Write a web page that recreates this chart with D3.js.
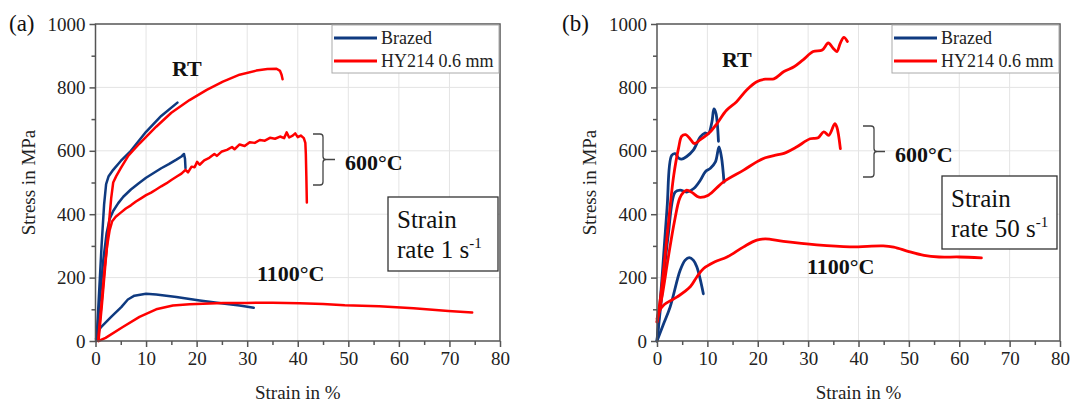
<!DOCTYPE html>
<html><head><meta charset="utf-8">
<script src="https://cdn.jsdelivr.net/npm/d3@7"></script>
<style>
html,body{margin:0;padding:0;background:#fff;}
svg{display:block;font-family:"Liberation Serif","Times New Roman",serif;}
</style></head>
<body><svg id="c" width="1070" height="403"></svg>
<script>
// ---------- data ----------
const xTicks = [0,10,20,30,40,50,60,70,80];
const yTicks = [0,200,400,600,800,1000];
const seriesNames = ["Brazed","HY214 0.6 mm"];

// panel (a): strain rate 1 s^-1  [strain %, stress MPa]
const aBrazedRT = [[0.2,0],[0.7,150],[1.2,300],[1.7,430],[2.1,495],[2.6,520],[3.5,540],[5,568],[7,600],[10,660],[13,710],[16.2,752]];
const aBrazed600 = [[0.2,0],[0.8,120],[1.5,250],[2.2,340],[2.8,385],[3.5,410],[4.5,435],[5.5,455],[7,478],[8.5,497],[10,515],[11.5,530],[13,545],[14.5,558],[16,572],[17,582],[17.5,590],[17.7,575],[17.8,545]];
const aBrazed1100 = [[0.1,7],[0.5,30],[1.1,44],[3.1,76],[5.1,107],[6.4,131],[7.7,143],[10,149],[12,147],[16,139],[20.6,128],[25.2,118],[28.5,112],[31.3,105]];
const aHyRT = [[0.6,0],[1.3,120],[2,250],[2.6,360],[3.1,450],[3.5,500],[4.1,520],[5,545],[6.5,585],[8.7,623],[12,676],[15,720],[18.6,760],[22,792],[25.2,818],[28.5,840],[31.8,853],[34,858],[35.8,859],[36.5,852],[36.8,840],[37,826]];
const aHy600 = [[0.5,0],[1.2,120],[1.8,230],[2.3,300],[2.8,350],[3.3,378],[4,392],[5,405],[6,418],[7,428],[8,440],[9,450],[10,460],[11,468],[12,478],[13,488],[14,497],[15,508],[16,518],[17,528],[17.8,540],[18.3,532],[19,550],[19.6,548],[20.1,565],[20.6,556],[21.5,570],[22.5,578],[23.5,590],[24,584],[25,598],[26,603],[27,612],[27.5,605],[28.5,620],[29.5,615],[30.5,627],[31.5,625],[32.5,634],[33.5,632],[34.5,641],[35.5,638],[36.5,645],[37.3,640],[37.8,658],[38.3,642],[39,648],[39.5,655],[40,643],[40.6,648],[41.2,640],[41.5,625],[41.6,590],[41.7,520],[41.8,437]];
const aHy1100 = [[0.6,0],[2,10],[5.4,44],[8.7,76],[12,100],[15.3,112],[18.6,116],[25.2,120],[29.8,120],[35,121],[40.4,119],[45,117],[49.3,113],[56.1,110],[62.9,103],[69.8,95],[74.5,90]];

// panel (b): strain rate 50 s^-1
const bBrazedRT = [[0,0],[1,200],[2,420],[2.9,585],[3.6,591],[4.3,577],[4.9,574],[5.9,582],[7.2,602],[8.6,644],[9.5,656],[10.2,654],[10.9,691],[11.3,732],[11.7,718],[12.2,630]];
const bBrazed600 = [[0,0],[1,150],[2.2,330],[3.6,470],[4.6,476],[5.9,470],[7.3,481],[8.6,507],[9.6,534],[10.6,545],[11.6,565],[12.3,612],[12.8,580],[13.3,501]];
const bBrazed1100 = [[0,0],[1.2,50],[2.6,107],[4.6,223],[5.6,255],[6.4,263],[7.2,255],[7.9,234],[9.2,149]];
const bHyRT = [[0,60],[0.8,150],[2,330],[3.3,520],[4.3,610],[4.9,646],[5.7,651],[6.7,635],[7.4,623],[8.6,635],[10.7,662],[11.9,686],[13.8,728],[15.8,755],[17.8,792],[19.8,818],[21.5,826],[23.2,827],[25.2,850],[27.2,865],[29,887],[31,913],[32.8,918],[34,940],[35,923],[35.7,913],[36.4,940],[37.1,958],[37.8,945]];
const bHy600 = [[0,60],[1,140],[2.2,260],[3.5,380],[4.5,450],[5.3,470],[5.9,476],[7,468],[8,456],[8.6,453],[10.2,460],[13.2,502],[17.2,539],[19.8,565],[21.5,578],[23.8,587],[25.2,592],[27.7,612],[30.4,638],[32,641],[33.1,660],[34.1,649],[35.3,686],[35.7,675],[36.4,607]];
const bHy1100 = [[0,70],[0.5,95],[1.3,113],[4,139],[6.6,171],[7.9,202],[9.2,228],[11.5,250],[13.9,265],[17.2,297],[19.8,318],[21.5,322],[25.1,314],[31.7,303],[38.3,297],[44.9,300],[47,296],[50,282],[53,270],[56,265],[60,265],[64.4,262]];

// ---------- drawing ----------
const BLUE = "#0f3a80", RED = "#ff0000";
const svg = d3.select("#c");

function panel(cfg){
  const g = svg.append("g");
  const x = d3.scaleLinear().domain([0,80]).range([cfg.left, cfg.right]);
  const y = d3.scaleLinear().domain([0,1000]).range([cfg.bottom, cfg.top]);

  // grid
  g.append("g").selectAll("line").data(xTicks.slice(1,-1)).join("line")
    .attr("x1",d=>x(d)).attr("x2",d=>x(d)).attr("y1",cfg.top).attr("y2",cfg.bottom)
    .attr("stroke","#e4e4e4").attr("stroke-width",1);
  g.append("g").selectAll("line").data(yTicks.slice(1,-1)).join("line")
    .attr("y1",d=>y(d)).attr("y2",d=>y(d)).attr("x1",cfg.left).attr("x2",cfg.right)
    .attr("stroke","#e4e4e4").attr("stroke-width",1);

  // curves
  const line = d3.line().x(d=>x(d[0])).y(d=>y(d[1])).curve(cfg.curve);
  cfg.series.forEach(s=>{
    g.append("path").datum(s.data).attr("d",line).attr("fill","none")
      .attr("stroke",s.color).attr("stroke-width",cfg.lw).attr("stroke-linejoin","round").attr("stroke-linecap","round");
  });

  // frame
  g.append("rect").attr("x",cfg.left).attr("y",cfg.top).attr("width",cfg.right-cfg.left).attr("height",cfg.bottom-cfg.top)
    .attr("fill","none").attr("stroke","#555").attr("stroke-width",1.5);

  // axes
  const xAxis = d3.axisBottom(x).tickValues(xTicks).tickSize(6).tickPadding(5).tickFormat(d3.format("d"));
  const gx = g.append("g").attr("transform",`translate(0,${cfg.bottom})`).call(xAxis);
  const xMinor = d3.axisBottom(x).tickValues(xTicks.slice(0,-1).map(d=>d+5)).tickSize(4).tickFormat("");
  const gxm = g.append("g").attr("transform",`translate(0,${cfg.bottom})`).call(xMinor);
  const yAxis = d3.axisLeft(y).tickValues(yTicks).tickSize(6).tickPadding(4).tickFormat(d3.format("d"));
  const gy = g.append("g").attr("transform",`translate(${cfg.left},0)`).call(yAxis);
  const yMinor = d3.axisLeft(y).tickValues(yTicks.slice(0,-1).map(d=>d+100)).tickSize(4).tickFormat("");
  const gym = g.append("g").attr("transform",`translate(${cfg.left},0)`).call(yMinor);
  [gx,gxm,gy,gym].forEach(a=>{
    a.attr("font-family",null).attr("font-size",null);
    a.select(".domain").remove();
    a.selectAll(".tick line").attr("stroke","#555").attr("stroke-width",1.5);
    a.selectAll("text").attr("font-size",19).attr("fill","#222");
  });

  // axis titles
  g.append("text").attr("x",(cfg.left+cfg.right)/2).attr("y",399).attr("text-anchor","middle")
    .attr("font-size",19).attr("fill","#222").text("Strain in %");
  g.append("text").attr("transform",`translate(${cfg.left-61},${(cfg.top+cfg.bottom)/2}) rotate(-90)`)
    .attr("text-anchor","middle").attr("font-size",19).attr("fill","#222").text("Stress in MPa");

  // panel label
  g.append("text").attr("x",cfg.labelX).attr("y",31).attr("font-size",23).attr("fill","#111").text(cfg.label);

  // legend
  const lg = g.append("g");
  lg.append("rect").attr("x",cfg.legX).attr("y",cfg.top+1).attr("width",cfg.right-cfg.legX-1).attr("height",48)
    .attr("fill","#fff").attr("stroke","#aaa").attr("stroke-width",1);
  seriesNames.forEach((n,i)=>{
    const yy = cfg.top + 14 + i*23;
    lg.append("line").attr("x1",cfg.legX+2).attr("x2",cfg.legX+45).attr("y1",yy).attr("y2",yy)
      .attr("stroke",i===0?BLUE:RED).attr("stroke-width",3);
    lg.append("text").attr("x",cfg.legX+49).attr("y",yy+6).attr("font-size",18).attr("fill","#222").text(n);
  });

  // annotations
  const bold = (t,cx,cy)=>g.append("text").attr("x",cx).attr("y",cy).attr("font-size",22).attr("font-weight","bold")
    .attr("fill","#111").text(t);
  bold("RT",cfg.rt[0],cfg.rt[1]);
  bold("600°C",cfg.c600[0],cfg.c600[1]);
  bold("1100°C",cfg.c1100[0],cfg.c1100[1]);

  // brace
  const b = cfg.brace; // [xLeft, yTop, yBottom, xSpine, xTip]
  const ym = (b[1]+b[2])/2;
  g.append("path").attr("d",
    `M${b[0]},${b[1]} L${b[3]-3},${b[1]} Q${b[3]},${b[1]} ${b[3]},${b[1]+3} L${b[3]},${ym-3} Q${b[3]},${ym} ${b[3]+3},${ym} L${b[4]},${ym} M${b[3]+3},${ym} Q${b[3]},${ym} ${b[3]},${ym+3} L${b[3]},${b[2]-3} Q${b[3]},${b[2]} ${b[3]-3},${b[2]} L${b[0]},${b[2]}`)
    .attr("fill","none").attr("stroke","#444").attr("stroke-width",1.3);

  // strain rate box
  const sb = cfg.box; // [x,y,w,h]
  g.append("rect").attr("x",sb[0]).attr("y",sb[1]).attr("width",sb[2]).attr("height",sb[3])
    .attr("fill","#fff").attr("stroke","#333").attr("stroke-width",1.3);
  g.append("text").attr("x",sb[0]+9).attr("y",sb[1]+31).attr("font-size",25).attr("fill","#111").text("Strain");
  const t2 = g.append("text").attr("x",sb[0]+9).attr("y",sb[1]+61).attr("font-size",25).attr("fill","#111");
  t2.append("tspan").text(cfg.rateText+" s");
  t2.append("tspan").attr("font-size",15).attr("dy",-10).text("-1");
}

panel({left:95.5,right:500,top:24,bottom:341,label:"(a)",labelX:9,legX:332,
  curve:d3.curveLinear,lw:2.5,
  series:[{data:aBrazedRT,color:BLUE},{data:aBrazed600,color:BLUE},{data:aBrazed1100,color:BLUE},
          {data:aHyRT,color:RED},{data:aHy600,color:RED},{data:aHy1100,color:RED}],
  rt:[172,76],c600:[345,170],c1100:[257,281],brace:[313,134,185,323,335],
  box:[388,197,110,74],rateText:"rate 1"});

panel({left:657,right:1060,top:24,bottom:341,label:"(b)",labelX:562,legX:892,
  curve:d3.curveCatmullRom.alpha(0.5),lw:2.8,
  series:[{data:bBrazedRT,color:BLUE},{data:bBrazed600,color:BLUE},{data:bBrazed1100,color:BLUE},
          {data:bHyRT,color:RED},{data:bHy600,color:RED},{data:bHy1100,color:RED}],
  rt:[722,67],c600:[895,162],c1100:[807,274],brace:[863,126,177,874,885],
  box:[942,176,115,73],rateText:"rate 50"});
</script></body></html>
